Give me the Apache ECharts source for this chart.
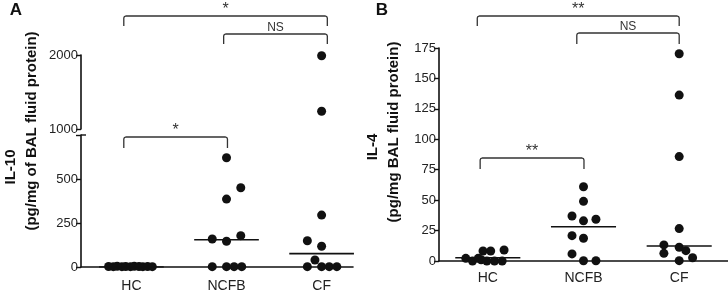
<!DOCTYPE html>
<html>
<head>
<meta charset="utf-8">
<script src="https://cdn.jsdelivr.net/npm/echarts@6/dist/echarts.min.js"></script>
<style>
  html, body { margin: 0; padding: 0; background: #fff; }
  #main { width: 728px; height: 290px; }
</style>
</head>
<body>
<div id="main"></div>
<script>
// groups on the x axis
var categories = ['HC', 'NCFB', 'CF'];

// IL-10 (panel A), pg/mg of BAL fluid protein
var il10HC = [3, 2, 4, 2, 3, 2, 4, 3, 2, 3, 2];
var il10NCFB = [621, 450, 386, 178, 159, 146, 2, 2, 2, 2];
var il10CF = [1990, 1240, 295, 149, 118, 40, 2, 2, 2, 2];
var il10Medians = [0, 155, 76];

// IL-4 (panel B), pg/mg BAL fluid protein
var il4HC = [2.2, 0, 2.2, 8.2, 1, 0, 8.2, 0, 0, 9];
var il4NCFB = [61, 49, 37, 33, 34.3, 20.8, 18.7, 5.8, 0.2, 0.2];
var il4CF = [170.3, 136.3, 85.8, 26.6, 13.2, 11.3, 8.5, 6.3, 2.7, 0.3];
var il4Medians = [2.7, 28.2, 12.3];

// horizontal spread of the dots inside each group (category units)
var il10HCJitter = [-0.24, -0.19, -0.15, -0.1, -0.06, -0.01, 0.03, 0.08, 0.12, 0.17, 0.22];
var il10NCFBJitter = [0, 0.15, 0, 0.15, -0.15, 0, -0.15, 0, 0.08, 0.16];
var il10CFJitter = [0, 0, 0, -0.15, 0, -0.07, -0.15, 0, 0.08, 0.16];
var il4HCJitter = [-0.23, -0.16, -0.10, -0.05, -0.07, -0.01, 0.03, 0.07, 0.15, 0.17];
var il4NCFBJitter = [0, 0, -0.12, 0, 0.13, -0.12, 0, -0.12, 0, 0.13];
var il4CFJitter = [0, 0, 0, 0, -0.16, 0, 0.07, -0.16, 0.14, 0];

// tick labels
var il10UpperTicks = [1000, 2000];
var il10LowerTicks = [0, 250, 500];
var il10Break = 750;
var il4Ticks = [0, 25, 50, 75, 100, 125, 150, 175];

var FONT = 'Liberation Sans, Arial, Helvetica, sans-serif';
var INK = '#111';
var MEDIAN_HALF = 0.34;

function dots(values, jitter, center) {
  return values.map(function (v, i) { return [center + jitter[i], v]; });
}

function scatter(data, xi, yi) {
  return {
    type: 'scatter',
    xAxisIndex: xi,
    yAxisIndex: yi,
    symbolSize: 9,
    itemStyle: { color: INK, opacity: 1 },
    data: data
  };
}

function median(m, center, xi, yi) {
  return {
    type: 'line',
    xAxisIndex: xi,
    yAxisIndex: yi,
    symbol: 'none',
    silent: true,
    lineStyle: { color: INK, width: 1.6 },
    data: [[center - MEDIAN_HALF, m], [center + MEDIAN_HALF, m]]
  };
}

var chart = echarts.init(document.getElementById('main'), null, { renderer: 'canvas' });

// panel A: split each group at the axis break
var il10Groups = [
  dots(il10HC, il10HCJitter, 1),
  dots(il10NCFB, il10NCFBJitter, 2),
  dots(il10CF, il10CFJitter, 3)
];

var series = [];
il10Groups.forEach(function (pts) {
  var low = pts.filter(function (p) { return p[1] <= il10Break; });
  var high = pts.filter(function (p) { return p[1] > il10Break; });
  if (low.length) series.push(scatter(low, 1, 1));
  if (high.length) series.push(scatter(high, 0, 0));
});
il10Medians.forEach(function (m, i) { series.push(median(m, i + 1, 1, 1)); });

series.push(scatter(dots(il4HC, il4HCJitter, 1), 2, 2));
series.push(scatter(dots(il4NCFB, il4NCFBJitter, 2), 2, 2));
series.push(scatter(dots(il4CF, il4CFJitter, 3), 2, 2));
il4Medians.forEach(function (m, i) { series.push(median(m, i + 1, 2, 2)); });

var axisLine = { show: true, onZero: false, lineStyle: { color: INK, width: 1.6 } };
var tickStyle = { color: INK, width: 1.4 };

function catAxis(grid, min, max, margin) {
  return {
    type: 'value', gridIndex: grid, min: min, max: max,
    axisLine: axisLine,
    axisTick: { show: false },
    splitLine: { show: false },
    axisLabel: {
      customValues: [1, 2, 3],
      formatter: function (v) { return categories[Math.round(v) - 1]; },
      fontFamily: FONT, fontSize: 14, color: '#222', margin: margin
    }
  };
}

function valAxis(grid, min, max, ticks, labels) {
  return {
    type: 'value', gridIndex: grid, min: min, max: max,
    axisLine: axisLine,
    axisTick: { show: true, length: 5, lineStyle: tickStyle, customValues: ticks },
    splitLine: { show: false },
    axisLabel: {
      customValues: labels,
      formatter: function (v) { return String(v); },
      fontFamily: FONT, fontSize: 13, color: '#222', margin: 3
    }
  };
}

var option = {
  animation: false,
  backgroundColor: '#fff',
  grid: [
    { left: 81, top: 55, width: 272, height: 74, outerBoundsMode: 'none' },
    { left: 81, top: 135, width: 272, height: 132, outerBoundsMode: 'none' },
    { left: 439, top: 48, width: 289, height: 213, outerBoundsMode: 'none' }
  ],
  xAxis: [
    { type: 'value', gridIndex: 0, min: 0.47, max: 3.33, show: false },
    catAxis(1, 0.47, 3.33, 12),
    catAxis(2, 0.49, 3.51, 10)
  ],
  yAxis: [
    valAxis(0, 1000, 2000, il10UpperTicks, il10UpperTicks),
    valAxis(1, 0, il10Break, il10LowerTicks.concat([il10Break]), il10LowerTicks),
    valAxis(2, 0, 175, il4Ticks, il4Ticks)
  ],
  series: series
};

chart.setOption(option);

// significance brackets, x in category units
var brackets = [
  { grid: 1, from: 0.92, to: 3.06, y: 16, drop: 10, text: '*' },
  { grid: 1, from: 1.97, to: 3.06, y: 34, drop: 10, text: 'NS' },
  { grid: 1, from: 0.92, to: 2.01, y: 137, drop: 11, text: '*' },
  { grid: 2, from: 0.89, to: 3.0, y: 16, drop: 10, text: '**' },
  { grid: 2, from: 1.93, to: 3.0, y: 33, drop: 11, text: 'NS' },
  { grid: 2, from: 0.92, to: 2.005, y: 158, drop: 11, text: '**' }
];

function px(grid, x, y) {
  return chart.convertToPixel({ xAxisIndex: grid, yAxisIndex: grid }, [x, y]);
}

var graphics = [];
brackets.forEach(function (b) {
  var x1 = px(b.grid, b.from, 0)[0];
  var x2 = px(b.grid, b.to, 0)[0];
  var r = 2, y = b.y, yb = b.y + b.drop;
  graphics.push({
    type: 'polyline',
    shape: {
      points: [[x1, yb], [x1, y + r], [x1 + 0.6, y + 0.6], [x1 + r, y],
               [x2 - r, y], [x2 - 0.6, y + 0.6], [x2, y + r], [x2, yb]]
    },
    style: { fill: null, stroke: '#333', lineWidth: 1.3, lineJoin: 'round' }
  });
  var isNS = b.text === 'NS';
  graphics.push({
    type: 'text',
    x: (x1 + x2) / 2,
    y: y - 6,
    style: {
      text: b.text,
      fontFamily: FONT,
      fontSize: isNS ? 12 : 16,
      fill: '#333',
      align: 'center',
      verticalAlign: 'middle'
    }
  });
});

// right half of the cap at the top of the lower IL-10 segment
var cap = px(1, 0.47, il10Break);
graphics.push({
  type: 'line',
  shape: { x1: cap[0], y1: cap[1], x2: cap[0] + 5, y2: cap[1] },
  style: { stroke: INK, lineWidth: 1.4 }
});

function label(text, x, y, size, rotate) {
  return {
    type: 'text', x: x, y: y, rotation: rotate ? Math.PI / 2 : 0,
    style: {
      text: text, fontFamily: FONT, fontSize: size, fontWeight: 'bold',
      fill: '#111', align: 'center', verticalAlign: 'middle'
    }
  };
}

graphics.push(label('A', 16, 10, 17, false));
graphics.push(label('B', 382, 10, 17, false));
graphics.push(label('IL-10', 11, 167, 15, true));
graphics.push(label('(pg/mg of BAL fluid protein)', 32, 131, 15, true));
graphics.push(label('IL-4', 373, 147, 15, true));
graphics.push(label('(pg/mg BAL fluid protein)', 394, 132, 15, true));

chart.setOption({ graphic: graphics });
</script>
</body>
</html>
